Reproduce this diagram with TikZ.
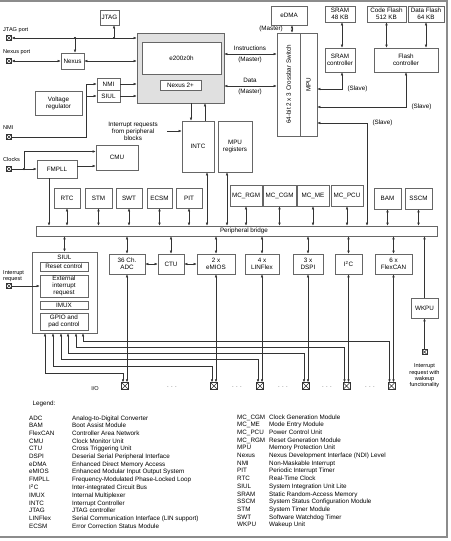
\documentclass[tikz,border=0pt]{standalone}
\usepackage{fontspec}
\setmainfont{Liberation Sans}
\usepackage{graphicx}
\usetikzlibrary{arrows.meta}

\begin{document}
\begin{tikzpicture}[x=1pt,y=-1pt,
  font=\fontsize{6.3}{7}\selectfont,
  >={Latex[length=3pt,width=2.6pt]},
  caja/.style={draw=black!60, line width=0.6pt, fill=white, inner sep=0pt, align=center},
  linea/.style={black!80, line width=0.5pt},
  etiq/.style={font=\fontsize{5.6}{6.4}\selectfont, inner sep=0pt},
  puerto/.style={draw=black!80, line width=0.5pt, fill=white, minimum size=5pt, inner sep=0pt,
    path picture={\draw[black!80] (path picture bounding box.north west) -- (path picture bounding box.south east)
      (path picture bounding box.south west) -- (path picture bounding box.north east);}},
  punto/.style={circle, fill=black, inner sep=0pt, minimum size=2.2pt}]
\useasboundingbox (0,0) rectangle (450,541);
% Marco
\draw[black!45, line width=1.5pt] (0,1) -- (447,1) -- (447,537) -- (0,537);
% Nucleo
\node[caja, fill=black!12, minimum width=87, minimum height=70] (nucleo) at (180.5,68) {};
\node[caja, minimum width=79, minimum height=32] (e200) at (181.5,58) {e200z0h};
\node[caja, minimum width=41, minimum height=10] (nexus2) at (180.5,85) {Nexus 2+};
% JTAG y Nexus
\node[caja, minimum width=19, minimum height=15] (jtag) at (109.5,17.5) {JTAG};
\node[caja, minimum width=23, minimum height=16] (nexus) at (72.5,61) {Nexus};
\node[puerto] (jtagp) at (9,38) {};
\node[etiq, anchor=west] (jtagt) at (3,30) {JTAG port};
\node[puerto] (nexp) at (9,61) {};
\node[etiq, anchor=west] (nexpt) at (3,52) {Nexus port};
\node[punto] (ujtag) at (114,38) {};
\node[punto] (unex) at (75,38) {};
\draw[linea,<->] (jtagp.east) -- (jtagp.east -| nucleo.west);
\draw[linea,->] (ujtag) -- (ujtag |- jtag.south);
\draw[linea,->] (unex) -- (unex |- nexus.north);
\draw[linea,<->] (nexp.east) -- (nexus.west);
\draw[linea,<->] (nexus.east) -- (nexus.east -| nucleo.west);
% NMI, SIUL, regulador
\node[caja, minimum width=23, minimum height=12] (nmi) at (108.5,84) {NMI};
\node[caja, minimum width=23, minimum height=12] (siulc) at (108.5,96) {SIUL};
\node[caja, minimum width=47, minimum height=24] (vreg) at (58.5,103) {Voltage\\regulator};
\node[puerto] (nmip) at (9,137) {};
\node[etiq, anchor=west] (nmit) at (3,128) {NMI};
\draw[linea,->] (nmip.east) -| ([xshift=-10pt]nmi.west) -- (nmi.west);
\draw[linea,->] ([xshift=-10pt]siulc.west) -- (siulc.west);
\draw[linea,->] (nmi.east) -- (nmi.east -| nucleo.west);
\draw[linea,->] (siulc.east) -- (siulc.east -| nucleo.west);
% Crossbar y eDMA
\node[caja, minimum width=23, minimum height=103] (xbar) at (288.5,84.5) {\rotatebox{90}{64-bit 2 x 3 Crossbar Switch}};
\node[caja, minimum width=17, minimum height=103] (mpu) at (308.5,84.5) {\rotatebox{90}{MPU}};
\node[caja, minimum width=36, minimum height=19] (edma) at (289,15.5) {eDMA};
\node (edmam) at (271,29) {(Master)};
\draw[linea,<->] ([xshift=3pt]edma.south) -- ([xshift=3pt]edma.south |- xbar.north);
\draw[linea,<->] ([yshift=14pt]nucleo.east) -- ([yshift=14pt]nucleo.east -| xbar.west);
\draw[linea,<->] ([yshift=-18pt]nucleo.east) -- ([yshift=-18pt]nucleo.east -| xbar.west);
\node (instr) at (250,48) {Instructions};
\node (instrm) at (250,60) {(Master)};
\node (datos) at (250,80) {Data};
\node (datosm) at (250,92) {(Master)};
% Memorias
\node[caja, minimum width=30, minimum height=16] (sram) at (340,14) {SRAM\\48 KB};
\node[caja, minimum width=39, minimum height=16] (cflash) at (386.5,14) {Code Flash\\512 KB};
\node[caja, minimum width=36, minimum height=16] (dflash) at (426,14) {Data Flash\\64 KB};
\node[caja, minimum width=30, minimum height=24] (sramc) at (340,60) {SRAM\\controller};
\node[caja, minimum width=64, minimum height=24] (flashc) at (406,60) {Flash\\controller};
\draw[linea,<->] ([xshift=2pt]sram.south) -- ([xshift=2pt]sramc.north);
\draw[linea,<->] (cflash.south) -- (cflash.south |- flashc.north);
\draw[linea,<->] (dflash.south) -- (dflash.south |- flashc.north);
% Esclavos
\coordinate (esc1) at (0,89);
\coordinate (esc2) at (0,107);
\coordinate (esc3) at (0,123);
\coordinate (esc3b) at (367,0);
\draw[linea,<->] ([xshift=2pt]sramc.south) |- (esc1 -| mpu.east);
\draw[linea,<->] (flashc.south) |- (esc2 -| mpu.east);
\node[anchor=west] (esc1t) at (344,89) {(Slave)};
\node[anchor=west] (esc2t) at (408,107) {(Slave)};
\node[anchor=west] (esc3t) at (369,123) {(Slave)};
% INTC y registros MPU
\node[caja, minimum width=32, minimum height=51] (intc) at (198,146.5) {INTC};
\node[caja, minimum width=34, minimum height=51] (mpureg) at (235,146.5) {MPU\\registers};
\draw[linea,->] ([xshift=-7pt]intc.north |- nucleo.south) -- ([xshift=-7pt]intc.north);
\draw[linea,->] ([xshift=7pt]intc.north) -- ([xshift=7pt]intc.north |- nucleo.south);
\node[align=center] (irq) at (133,131) {Interrupt requests\\from peripheral\\blocks};
\draw[linea,->] ([xshift=6pt]irq.east) -- (irq.east -| intc.west);
% Relojes
\node[caja, minimum width=40, minimum height=18] (fmpll) at (57,169) {FMPLL};
\node[caja, minimum width=42, minimum height=25] (cmu) at (117,157.5) {CMU};
\node[puerto] (clkp) at (9,169) {};
\node[etiq, anchor=west] (clkt) at (3,159) {Clocks};
\node[punto] (uclk) at (24,169) {};
\draw[linea,->] (clkp.east) -- (fmpll.west);
\draw[linea,->] (uclk) |- ([yshift=6pt]cmu.west);
\draw[linea,->] ([yshift=3pt]fmpll.east) -- ([yshift=3pt]fmpll.east -| cmu.west);
% Perifericos superiores
\node[caja, minimum width=26, minimum height=20] (rtc) at (67,198) {RTC};
\node[caja, minimum width=27, minimum height=20] (stm) at (98.5,198) {STM};
\node[caja, minimum width=26, minimum height=20] (swt) at (129,198) {SWT};
\node[caja, minimum width=25, minimum height=20] (ecsm) at (159.5,198) {ECSM};
\node[caja, minimum width=26, minimum height=20] (pit) at (189,198) {PIT};
\node[caja, minimum width=32, minimum height=21] (rgm) at (246,195.5) {MC\_RGM};
\node[caja, minimum width=33, minimum height=21] (cgm) at (279.5,195.5) {MC\_CGM};
\node[caja, minimum width=32, minimum height=21] (me) at (313,195.5) {MC\_ME};
\node[caja, minimum width=32, minimum height=21] (pcu) at (347,195.5) {MC\_PCU};
\node[caja, minimum width=27, minimum height=21] (bam) at (387.5,198.5) {BAM};
\node[caja, minimum width=27, minimum height=21] (sscm) at (418.5,198.5) {SSCM};
% Puente de perifericos
\node[caja, minimum width=401, minimum height=10] (puente) at (236.5,231) {};
\node (puentet) at (244,231) {Peripheral bridge};
\draw[linea,->] ([xshift=-8pt]fmpll.south) -- ([xshift=-8pt]fmpll.south |- puente.north);
\draw[linea,<->] (rtc.south) -- (rtc.south |- puente.north);
\draw[linea,<->] (stm.south) -- (stm.south |- puente.north);
\draw[linea,<->] (swt.south) -- (swt.south |- puente.north);
\draw[linea,<->] (ecsm.south) -- (ecsm.south |- puente.north);
\draw[linea,<->] (pit.south) -- (pit.south |- puente.north);
\draw[linea,<->] ([xshift=9pt]intc.south) -- ([xshift=9pt]intc.south |- puente.north);
\draw[linea,<->] ([xshift=-8pt]mpureg.south) -- ([xshift=-8pt]mpureg.south |- puente.north);
\draw[linea,<->] (rgm.south) -- (rgm.south |- puente.north);
\draw[linea,<->] (cgm.south) -- (cgm.south |- puente.north);
\draw[linea,<->] (me.south) -- (me.south |- puente.north);
\draw[linea,<->] (pcu.south) -- (pcu.south |- puente.north);
\draw[linea,<->] (bam.south) -- (bam.south |- puente.north);
\draw[linea,<->] (sscm.south) -- (sscm.south |- puente.north);
\draw[linea,<->] (esc3 -| mpu.east) -| (esc3b |- puente.north);
% Perifericos inferiores
\node[caja, minimum width=36, minimum height=20] (adc) at (127,264) {36 Ch.\\ADC};
\node[caja, minimum width=26, minimum height=20] (ctu) at (171,264) {CTU};
\node[caja, minimum width=38, minimum height=20] (emios) at (216,264) {2 x\\eMIOS};
\node[caja, minimum width=34, minimum height=20] (linflex) at (262,264) {4 x\\LINFlex};
\node[caja, minimum width=30, minimum height=20] (dspi) at (308,264) {3 x\\DSPI};
\node[caja, minimum width=27, minimum height=20] (i2c) at (348.5,264) {I\textsuperscript{2}C};
\node[caja, minimum width=37, minimum height=20] (flexcan) at (393.5,264) {6 x\\FlexCAN};
\draw[linea,<->] (adc.north) -- (adc.north |- puente.south);
\draw[linea,<->] (ctu.north) -- (ctu.north |- puente.south);
\draw[linea,<->] (emios.north) -- (emios.north |- puente.south);
\draw[linea,<->] (linflex.north) -- (linflex.north |- puente.south);
\draw[linea,<->] (dspi.north) -- (dspi.north |- puente.south);
\draw[linea,<->] (i2c.north) -- (i2c.north |- puente.south);
\draw[linea,<->] (flexcan.north) -- (flexcan.north |- puente.south);
\draw[linea,<->] (adc.east) -- (ctu.west);
\draw[linea,<->] (ctu.east) -- (emios.west);
% SIUL
\node[caja, minimum width=65, minimum height=81] (siul) at (64.5,292.5) {};
\node (siult) at (64.5,257) {SIUL};
\node[caja, minimum width=48, minimum height=9] (reset) at (64,266.5) {Reset control};
\node[caja, minimum width=48, minimum height=22] (eirq) at (64,286) {External\\interrupt\\request};
\node[caja, minimum width=48, minimum height=8] (imux) at (64,305) {IMUX};
\node[caja, minimum width=48, minimum height=17] (gpio) at (64,321.5) {GPIO and\\pad control};
\draw[linea,<->] (siul.north) -- (siul.north |- puente.south);
\node[puerto] (irqp) at (9,286) {};
\node[etiq, anchor=west, align=left] (irqt) at (3,276) {Interrupt\\request};
\draw[linea,->] (irqp.east) -- (eirq.west);
% Pines de E/S
\node[puerto, minimum size=7pt] (p1) at (125,386) {};
\node[puerto, minimum size=7pt] (p2) at (214,386) {};
\node[puerto, minimum size=7pt] (p3) at (260,386) {};
\node[puerto, minimum size=7pt] (p4) at (306,386) {};
\node[puerto, minimum size=7pt] (p5) at (346.5,386) {};
\node[puerto, minimum size=7pt] (p6) at (391.5,386) {};
\coordinate (g1) at (45,373);
\coordinate (g2) at (53,366);
\coordinate (g3) at (61,359);
\coordinate (g4) at (68,353);
\coordinate (g5) at (76,347);
\coordinate (g6) at (83,341);
\draw[linea,<->] ([xshift=-2pt]p1.north) |- (g1) -- (g1 |- siul.south);
\draw[linea,<->] ([xshift=-2pt]p2.north) |- (g2) -- (g2 |- siul.south);
\draw[linea,<->] ([xshift=-2pt]p3.north) |- (g3) -- (g3 |- siul.south);
\draw[linea,<->] ([xshift=-2pt]p4.north) |- (g4) -- (g4 |- siul.south);
\draw[linea,<->] ([xshift=-2pt]p5.north) |- (g5) -- (g5 |- siul.south);
\draw[linea,<->] ([xshift=-2pt]p6.north) |- (g6) -- (g6 |- siul.south);
\draw[linea,<->] (p1.north -| adc.south) -- (adc.south);
\draw[linea,<->] (p2.north -| emios.south) -- (emios.south);
\draw[linea,<->] (p3.north -| linflex.south) -- (linflex.south);
\draw[linea,<->] (p4.north -| dspi.south) -- (dspi.south);
\draw[linea,<->] (p5.north -| i2c.south) -- (i2c.south);
\draw[linea,<->] (p6.north -| flexcan.south) -- (flexcan.south);
\node[etiq] (io) at (95,388) {I/O};
\node (d1) at (172,387) {$\cdot\cdot\cdot$};
\node (d2) at (237,387) {$\cdot\cdot\cdot$};
\node (d3) at (283,387) {$\cdot\cdot\cdot$};
\node (d4) at (327,387) {$\cdot\cdot\cdot$};
\node (d5) at (370,387) {$\cdot\cdot\cdot$};
% WKPU
\node[caja, minimum width=27, minimum height=20] (wkpu) at (424.5,308) {WKPU};
\draw[linea,->] (wkpu.north) -- (wkpu.north |- puente.south);
\node[puerto] (wkp) at (424.5,352) {};
\draw[linea,->] (wkp.north) -- (wkpu.south);
\node[etiq, align=center] (wkt) at (424.5,376) {Interrupt\\request with\\wakeup\\functionality};
% Leyenda
\node[anchor=west] (leyenda) at (29,404) {Legend:};
\node[anchor=north west, inner sep=0pt, font=\fontsize{6.3}{7.7}\selectfont] (ley1) at (29,414.5) {%
\begin{tabular}{@{}p{43pt}@{}l@{}}
ADC & Analog-to-Digital Converter\\
BAM & Boot Assist Module\\
FlexCAN & Controller Area Network\\
CMU & Clock Monitor Unit\\
CTU & Cross Triggering Unit\\
DSPI & Deserial Serial Peripheral Interface\\
eDMA & Enhanced Direct Memory Access\\
eMIOS & Enhanced Modular Input Output System\\
FMPLL & Frequency-Modulated Phase-Locked Loop\\
I\textsuperscript{2}C & Inter-integrated Circuit Bus\\
IMUX & Internal Multiplexer\\
INTC & Interrupt Controller\\
JTAG & JTAG controller\\
LINFlex & Serial Communication Interface (LIN support)\\
ECSM & Error Correction Status Module
\end{tabular}};
\node[anchor=north west, inner sep=0pt, font=\fontsize{6.3}{7.7}\selectfont] (ley2) at (237,413.5) {%
\begin{tabular}{@{}p{32pt}@{}l@{}}
MC\_CGM & Clock Generation Module\\
MC\_ME & Mode Entry Module\\
MC\_PCU & Power Control Unit\\
MC\_RGM & Reset Generation Module\\
MPU & Memory Protection Unit\\
Nexus & Nexus Development Interface (NDI) Level\\
NMI & Non-Maskable Interrupt\\
PIT & Periodic Interrupt Timer\\
RTC & Real-Time Clock\\
SIUL & System Integration Unit Lite\\
SRAM & Static Random-Access Memory\\
SSCM & System Status Configuration Module\\
STM & System Timer Module\\
SWT & Software Watchdog Timer\\
WKPU & Wakeup Unit
\end{tabular}};
\end{tikzpicture}
\end{document}
